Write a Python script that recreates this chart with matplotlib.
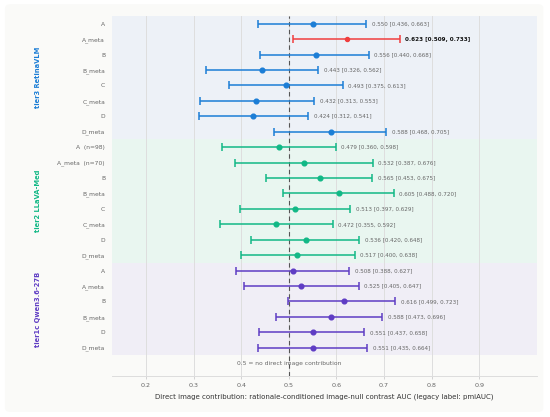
import matplotlib
matplotlib.use("Agg")
import matplotlib.pyplot as plt
from matplotlib.patches import FancyBboxPatch

# dados por grupo (modelo)
groups = ["tier3 RetinaVLM", "tier2 LLaVA-Med", "tier1c Qwen3.6-27B"]

tier3_labels = ["A", "A_meta", "B", "B_meta", "C", "C_meta", "D", "D_meta"]
tier3_auc = [0.550, 0.623, 0.556, 0.443, 0.493, 0.432, 0.424, 0.588]
tier3_lo = [0.436, 0.509, 0.440, 0.326, 0.375, 0.313, 0.312, 0.468]
tier3_hi = [0.663, 0.733, 0.668, 0.562, 0.613, 0.553, 0.541, 0.705]

tier2_labels = ["A  (n=98)", "A_meta  (n=70)", "B", "B_meta", "C", "C_meta", "D", "D_meta"]
tier2_auc = [0.479, 0.532, 0.565, 0.605, 0.513, 0.472, 0.536, 0.517]
tier2_lo = [0.360, 0.387, 0.453, 0.488, 0.397, 0.355, 0.420, 0.400]
tier2_hi = [0.598, 0.676, 0.675, 0.720, 0.629, 0.592, 0.648, 0.638]

tier1c_labels = ["A", "A_meta", "B", "B_meta", "D", "D_meta"]
tier1c_auc = [0.508, 0.525, 0.616, 0.588, 0.551, 0.551]
tier1c_lo = [0.388, 0.405, 0.499, 0.473, 0.437, 0.435]
tier1c_hi = [0.627, 0.647, 0.723, 0.696, 0.658, 0.664]

xticks = [0.2, 0.3, 0.4, 0.5, 0.6, 0.7, 0.8, 0.9]

# destaque: o melhor (tier3 A_meta)
highlight = ("tier3 RetinaVLM", "A_meta")

colors = ["#1c7ed6", "#12b886", "#5f3dc4"]
bands = ["#edf1f7", "#e9f6f0", "#f0eef6"]

fig = plt.figure(figsize=(5.5, 4.17), dpi=100, facecolor="white")
fig.patches.append(FancyBboxPatch((0.009, 0.012), 0.979, 0.978, boxstyle="round,pad=0,rounding_size=0.01",
                                  transform=fig.transFigure, facecolor="#fafaf8", edgecolor="none", zorder=-10))
ax = fig.add_axes([0.2036, 0.0983, 0.7727, 0.8633])
ax.set_facecolor("none")

data = [(tier3_labels, tier3_auc, tier3_lo, tier3_hi),
        (tier2_labels, tier2_auc, tier2_lo, tier2_hi),
        (tier1c_labels, tier1c_auc, tier1c_lo, tier1c_hi)]

ylabels = []
row = 0
for g, (labs, auc, lo, hi) in enumerate(data):
    start = row
    ax.axhspan(start - 0.5, start + len(labs) - 0.5, color=bands[g], zorder=0, lw=0)
    for i in range(len(labs)):
        best = (groups[g], labs[i]) == highlight
        c = "#f03e3e" if best else colors[g]
        ax.errorbar(auc[i], row, xerr=[[auc[i] - lo[i]], [hi[i] - auc[i]]], fmt="o", color=c,
                    ms=3.4 if not best else 2.9, elinewidth=1.1, capsize=2.6, capthick=1.1, zorder=3)
        ax.annotate("%.3f [%.3f, %.3f]" % (auc[i], lo[i], hi[i]), (hi[i], row), xytext=(4, 0),
                    textcoords="offset points", va="center", ha="left", fontsize=4.1,
                    color="#111111" if best else "#666666", fontweight="bold" if best else "normal")
        ylabels.append(labs[i])
        row += 1
    mid = start + (len(labs) - 1) / 2
    ax.text(-0.174, mid, groups[g], transform=ax.get_yaxis_transform(), rotation=90, ha="center",
            va="center", fontsize=4.9, fontweight="bold", color=colors[g])

ax.axvline(0.5, color="#555555", lw=0.8, ls=(0, (4, 3)), zorder=2)
ax.text(0.5, row + 0.05, "0.5 = no direct image contribution", ha="center", va="center",
        fontsize=4.3, color="#666666")

ax.set_xlim(0.1286, 1.021)
ax.set_ylim(row + 0.83, -0.5)
ax.set_yticks(range(row))
ax.set_yticklabels(ylabels, fontsize=4.3, color="#666666")
ax.set_xticks(xticks)
ax.set_xticklabels([str(x) for x in xticks], fontsize=4.6, color="#666666")
ax.tick_params(axis="y", length=0, pad=5)
ax.tick_params(axis="x", length=2, width=0.6, color="#cccccc", pad=3)
ax.grid(axis="x", color="#dedede", lw=0.7, zorder=1)
ax.set_axisbelow(True)
for s in ["top", "right", "left"]:
    ax.spines[s].set_visible(False)
ax.spines["bottom"].set_color("#dddddd")
ax.spines["bottom"].set_linewidth(0.7)
ax.set_xlabel("Direct image contribution: rationale-conditioned image-null contrast AUC (legacy label: pmiAUC)",
              fontsize=5.0, color="#333333", labelpad=4)

fig.savefig("out.png", dpi=100, facecolor=fig.get_facecolor())
